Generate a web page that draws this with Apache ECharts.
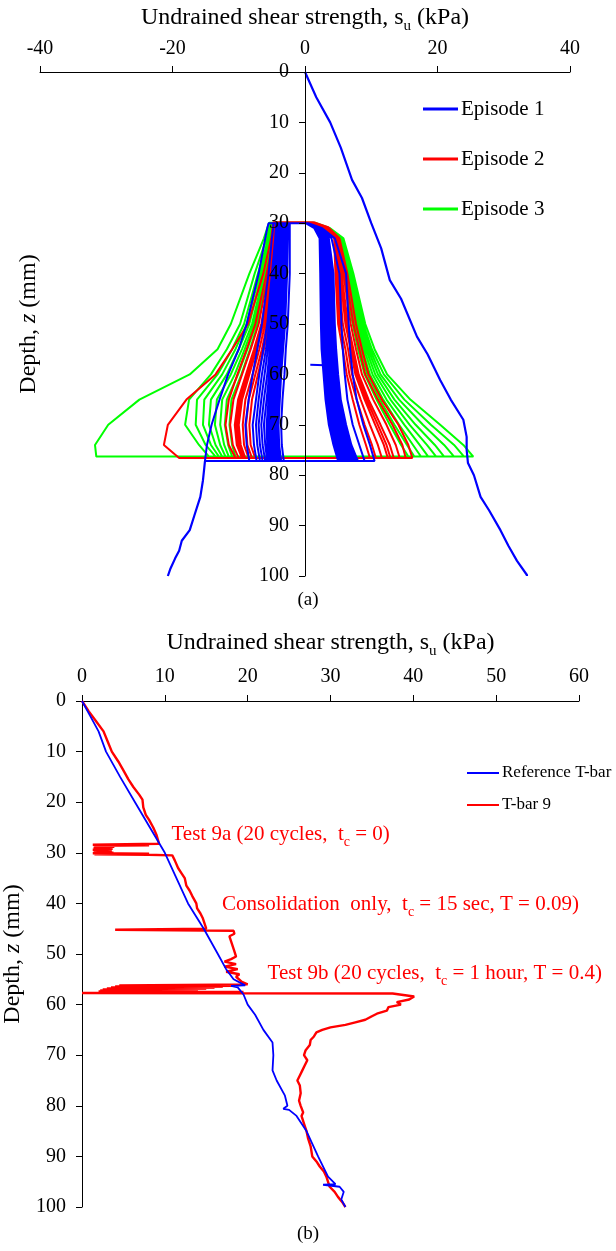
<!DOCTYPE html>
<html><head><meta charset="utf-8">
<script src="https://cdn.jsdelivr.net/npm/echarts@6.0.0/dist/echarts.min.js"></script>
<style>html,body{margin:0;padding:0;background:#fff}#c{width:616px;height:1251px}</style>
</head><body><div id="c"></div>
<script>
// ================= DATA (chart a) =================
const xTicksA = [-40, -20, 0, 20, 40];
const legendA = ['Episode 1', 'Episode 2', 'Episode 3'];
// Episode 1 monotonic penetration [su, depth]
const ep1Penetration = [[0,0],[1.7,5],[3.8,10],[5.4,15],[7.1,21.4],[8.6,25],[10.0,30],[11.5,35],[12.8,41.3],[14.5,45],[16.9,52.5],[18.5,56],[20.4,61.1],[22.0,65],[23.9,69],[24.4,72.4],[24.4,75],[24.6,77.6],[25.5,80],[26.5,84.3],[27.8,87],[29.5,90.9],[30.7,94],[32.0,97],[33.5,99.8],[33.5,100]];
// Episode 1 extraction from 100 mm up to the cycling zone
const ep1Extraction = [[-20.7,100],[-20.3,98.5],[-19.6,96.5],[-19.0,95],[-18.6,93],[-17.4,90.9],[-16.7,88],[-15.8,84.3],[-15.4,81],[-15.2,78.5],[-15.1,77.2]];
const ep1Blip = [[0.8,58.1],[3.0,58.2]];
// cyclic loops: depth stations and su on the penetration (right) and extraction (left) sides
const ep1Depth = [30, 31, 33, 40, 50, 55, 60, 65, 70, 74, 77.2];
const ep1Right = [
  [0.5, 2.6, 4.5, 6.2, 6.6, 6.8, 7.2, 7.8, 8.8, 9.8, 10.5],
  [0.5, 2.4, 4.0, 5.2, 5.5, 5.7, 6.0, 6.4, 7.2, 8.2, 9.0],
  [0.4, 2.2, 3.6, 4.3, 4.5, 4.7, 5.0, 5.4, 6.2, 7.0, 8.0],
  [0.4, 2.1, 3.5, 4.1, 4.3, 4.5, 4.8, 5.2, 5.9, 6.7, 7.7],
  [0.4, 2.0, 3.4, 4.0, 4.2, 4.3, 4.6, 5.0, 5.7, 6.5, 7.5],
  [0.3, 1.9, 3.3, 3.8, 4.0, 4.1, 4.4, 4.8, 5.5, 6.2, 7.2],
  [0.3, 1.9, 3.2, 3.7, 3.9, 4.0, 4.3, 4.6, 5.3, 6.0, 7.0],
  [0.3, 1.8, 3.1, 3.5, 3.7, 3.8, 4.1, 4.4, 5.1, 5.8, 6.7],
  [0.3, 1.8, 3.0, 3.4, 3.6, 3.7, 4.0, 4.3, 4.9, 5.6, 6.5],
  [0.2, 1.7, 2.9, 3.2, 3.4, 3.5, 3.8, 4.1, 4.7, 5.4, 6.2],
  [0.2, 1.7, 2.8, 3.1, 3.3, 3.4, 3.7, 4.0, 4.5, 5.2, 6.0],
  [0.2, 1.6, 2.7, 2.9, 3.1, 3.2, 3.5, 3.8, 4.3, 5.0, 5.8],
  [0.2, 1.6, 2.6, 2.8, 3.0, 3.1, 3.4, 3.7, 4.2, 4.9, 5.6],
  [0.2, 1.5, 2.5, 2.6, 2.8, 2.9, 3.2, 3.5, 4.0, 4.7, 5.4],
  [0.2, 1.5, 2.4, 2.5, 2.7, 2.8, 3.1, 3.4, 3.9, 4.6, 5.3],
  [0.1, 1.4, 2.2, 2.3, 2.4, 2.5, 2.8, 3.1, 3.6, 4.3, 5.0]
];
const ep1Left = [
  [-5.5, -5.7, -6.0, -7.0, -8.8, -10.0, -11.6, -12.9, -14.1, -14.8, -15.1],
  [-4.8, -4.8, -5.0, -5.5, -6.5, -7.2, -7.9, -8.5, -9.0, -8.8, -8.4],
  [-4.4, -4.4, -4.5, -5.0, -5.7, -6.3, -6.9, -7.4, -7.9, -7.7, -7.3],
  [-4.2, -4.2, -4.3, -4.7, -5.4, -5.9, -6.5, -7.0, -7.4, -7.2, -6.8],
  [-4.0, -4.0, -4.1, -4.5, -5.1, -5.6, -6.1, -6.6, -7.0, -6.8, -6.4],
  [-3.8, -3.8, -3.9, -4.3, -4.8, -5.3, -5.7, -6.2, -6.6, -6.4, -6.0],
  [-3.7, -3.7, -3.8, -4.1, -4.6, -5.0, -5.4, -5.8, -6.2, -6.0, -5.7],
  [-3.5, -3.5, -3.6, -3.9, -4.4, -4.7, -5.1, -5.5, -5.8, -5.7, -5.4],
  [-3.4, -3.4, -3.5, -3.7, -4.2, -4.5, -4.9, -5.2, -5.5, -5.4, -5.1],
  [-3.2, -3.2, -3.3, -3.5, -4.0, -4.3, -4.6, -4.9, -5.2, -5.1, -4.8],
  [-3.1, -3.1, -3.2, -3.4, -3.8, -4.1, -4.4, -4.7, -5.0, -4.9, -4.5],
  [-3.0, -3.0, -3.0, -3.2, -3.6, -3.9, -4.2, -4.4, -4.7, -4.6, -4.2],
  [-2.9, -2.9, -2.9, -3.0, -3.4, -3.7, -4.0, -4.2, -4.5, -4.4, -4.0],
  [-2.7, -2.7, -2.7, -2.8, -3.2, -3.5, -3.8, -4.0, -4.2, -4.1, -3.8],
  [-2.6, -2.6, -2.6, -2.7, -3.0, -3.3, -3.6, -3.8, -4.0, -3.9, -3.6],
  [-2.3, -2.3, -2.3, -2.3, -2.6, -2.9, -3.1, -3.4, -3.6, -3.5, -3.2]
];
const ep2Depth = [29.8, 30.8, 33, 40, 50, 55, 60, 65, 70, 74, 76.6];
const ep2Right = [
  [1.3, 3.5, 5.2, 6.4, 7.7, 8.6, 9.6, 11.6, 14.1, 15.6, 16.2],
  [1.2, 3.4, 5.0, 6.1, 7.3, 8.2, 9.1, 11.0, 13.2, 14.7, 15.2],
  [1.1, 3.3, 4.9, 5.8, 6.9, 7.7, 8.6, 10.3, 12.3, 13.7, 14.3],
  [1.0, 3.2, 4.8, 5.5, 6.5, 7.3, 8.1, 9.6, 11.4, 12.8, 13.4],
  [1.0, 3.2, 4.8, 5.4, 6.3, 7.1, 7.8, 9.3, 11.0, 12.3, 12.9],
  [0.9, 3.1, 4.7, 5.3, 6.1, 6.9, 7.6, 9.0, 10.6, 11.9, 12.5],
  [0.8, 3.0, 4.6, 5.1, 5.7, 6.5, 7.1, 8.4, 9.8, 11.0, 11.6],
  [0.7, 2.9, 4.5, 4.9, 5.3, 6.1, 6.7, 7.8, 9.0, 10.1, 10.7],
  [0.6, 2.8, 4.4, 4.6, 5.0, 5.7, 6.3, 7.2, 8.2, 9.2, 9.8]
];
const ep2Left = [
  [-4.8, -4.9, -5.1, -6.3, -8.6, -11.0, -13.5, -17.9, -20.7, -21.3, -19.0],
  [-4.5, -4.6, -4.8, -5.8, -7.5, -8.8, -10.2, -11.5, -12.0, -11.5, -10.5],
  [-4.3, -4.4, -4.6, -5.5, -7.0, -8.2, -9.5, -10.8, -11.3, -10.9, -10.0],
  [-4.1, -4.2, -4.4, -5.2, -6.6, -7.7, -8.9, -10.1, -10.6, -10.3, -9.5],
  [-4.1, -4.1, -4.3, -5.1, -6.4, -7.5, -8.6, -9.8, -10.3, -10.0, -9.2],
  [-4.0, -4.1, -4.2, -5.0, -6.3, -7.3, -8.4, -9.5, -10.0, -9.7, -9.0],
  [-3.9, -4.0, -4.1, -4.8, -6.0, -6.9, -7.9, -9.0, -9.4, -9.2, -8.5],
  [-3.8, -3.9, -4.0, -4.6, -5.7, -6.5, -7.5, -8.5, -8.9, -8.7, -8.0],
  [-3.7, -3.8, -3.9, -4.4, -5.4, -6.2, -7.1, -8.0, -8.4, -8.2, -7.5]
];
const ep3Depth = [29.9, 31, 33, 40, 50, 55, 60, 65, 70, 74, 76.3];
const ep3Right = [
  [1.5, 3.8, 5.8, 7.3, 9.1, 10.5, 12.4, 15.9, 20.4, 23.9, 25.4],
  [1.5, 3.7, 5.7, 7.1, 8.8, 10.1, 11.9, 15.0, 19.0, 22.5, 24.0],
  [1.4, 3.6, 5.6, 6.9, 8.5, 9.8, 11.4, 14.2, 17.8, 21.0, 22.5],
  [1.4, 3.5, 5.5, 6.8, 8.3, 9.5, 11.0, 13.5, 16.7, 19.6, 21.0],
  [1.3, 3.4, 5.4, 6.6, 8.0, 9.2, 10.6, 12.9, 15.8, 18.4, 19.8],
  [1.3, 3.3, 5.3, 6.4, 7.8, 8.9, 10.2, 12.3, 15.0, 17.3, 18.6],
  [1.2, 3.2, 5.2, 6.2, 7.6, 8.6, 9.8, 11.8, 14.2, 16.3, 17.5],
  [1.2, 3.1, 5.1, 6.0, 7.4, 8.3, 9.4, 11.3, 13.5, 15.4, 16.5],
  [1.1, 3.0, 5.0, 5.8, 7.2, 8.0, 9.0, 10.8, 12.8, 14.5, 15.6]
];
const ep3Left = [
  [-5.4, -5.7, -6.2, -8.4, -11.2, -13.2, -17.4, -25.0, -29.7, -31.7, -31.5],
  [-5.2, -5.4, -5.8, -7.6, -9.8, -11.8, -14.2, -17.5, -18.1, -16.0, -14.5],
  [-5.0, -5.2, -5.5, -7.1, -9.2, -11.0, -13.2, -16.3, -16.5, -15.0, -13.5],
  [-4.9, -5.0, -5.3, -6.8, -8.8, -10.5, -12.5, -15.2, -15.4, -14.2, -13.0],
  [-4.8, -4.9, -5.1, -6.5, -8.4, -10.0, -11.8, -14.2, -14.5, -13.5, -12.5],
  [-4.7, -4.8, -5.0, -6.2, -8.0, -9.5, -11.2, -13.3, -13.6, -12.8, -12.0],
  [-4.6, -4.7, -4.9, -6.0, -7.7, -9.1, -10.6, -12.5, -12.8, -12.2, -11.5],
  [-4.5, -4.6, -4.8, -5.8, -7.4, -8.7, -10.1, -11.8, -12.1, -11.6, -11.0],
  [-4.4, -4.5, -4.7, -5.6, -7.1, -8.3, -9.6, -11.1, -11.4, -11.0, -10.5]
];

// ================= DATA (chart b) =================
const xTicksB = [0, 10, 20, 30, 40, 50, 60];
const legendB = ['Reference T-bar', 'T-bar 9'];
const refTbar = [[0,0],[1.0,3],[2.0,6],[2.9,10],[4.6,15],[6.4,20],[8.2,25],[10.0,30],[11.4,35],[12.8,40],[14.7,45],[16.4,50],[17.4,53],[18.3,55],[19.7,56.2],[18.0,56.3],[18.8,56.6],[19.5,58],[20.0,60],[20.9,62],[21.9,65],[23.0,67.5],[23.1,70],[23.0,73],[23.5,75],[24.5,78],[24.8,80],[24.3,80.6],[25.0,80.8],[25.9,82],[27.1,85],[28.5,90],[29.7,94],[30.6,95.5],[29.1,95.6],[31.1,96],[31.6,97],[31.3,98.5],[31.8,100]];
const tbar9 = [[0,0],[0.8,2],[1.7,4],[2.6,6],[3.1,8],[3.6,10],[4.4,12],[5.1,14],[5.6,15.5],[6.2,17],[6.9,18.5],[7.3,19.5],[7.4,21],[7.7,22.5],[8.1,23.5],[8.6,25],[9.0,26.5],[9.3,28.2],
[1.3,28.4],[8.1,28.5],[1.5,28.6],[3.9,28.8],[1.4,29.0],[3.7,29.2],[1.3,29.4],[3.6,29.6],[1.4,29.8],[3.8,30.0],[1.3,30.1],[8.1,30.2],[1.5,30.3],[8.0,30.4],[10.9,30.5],
[11.2,31.5],[11.6,33],[12.0,34],[12.4,35],[12.6,36.5],[13.0,37.5],[13.3,38.5],[13.8,40],[13.9,41],[14.3,42],[14.6,43],[14.8,44],[15.0,45.0],
[4.0,45.2],[18.3,45.4],
[18.4,46],[17.8,46.5],[18.0,47.5],[18.2,48.5],[18.4,49.5],[18.6,50.5],[18.0,51],[17.2,51.5],[18.6,52],[17.2,52.5],[18.8,53],[17.4,53.5],[19.0,54],[18.6,54.5],[19.3,55.5],[20.0,56.0],
[4.5,56.2],[18.5,56.3],[4.0,56.4],[17.0,56.5],[3.5,56.6],[16.0,56.7],[3.0,56.8],[15.0,56.9],[2.5,57.0],[14.0,57.1],[2.2,57.2],[12.0,57.3],[2.0,57.4],[19.5,57.5],[0.0,57.7],[37.5,57.8],
[40.1,58.4],[39.5,59],[38.0,59.5],[38.5,60],[37.0,60.5],[36.8,61.2],[35.6,61.8],[35.0,62.3],[34.2,63],[33.0,63.5],[31.8,64],[30.0,64.5],[29.0,65],[28.3,65.5],[28.0,66.3],[27.6,67],[27.5,68],[27.0,69],[26.8,70],[27.2,71],[26.9,72],[26.6,73],[26.3,74],[26.0,75],[26.3,76],[26.4,77.5],[26.2,79],[26.4,80],[26.7,81.3],[26.5,82],[26.8,83.5],[27.1,85],[27.3,86.5],[27.6,88],[27.8,90],[28.3,91],[28.7,92],[29.2,93],[29.5,94],[29.9,96],[30.5,97],[30.9,98],[31.4,99],[31.8,100]];
const annotations = [
  {text: '{n|Test 9a (20 cycles,  t}{s|c}{n| = 0)}', su: 10.8, z: 26.3},
  {text: '{n|Consolidation  only,  t}{s|c}{n| = 15 sec, T = 0.09)}', su: 16.9, z: 40.2},
  {text: '{n|Test 9b (20 cycles,  t}{s|c}{n| = 1 hour, T = 0.4)}', su: 22.4, z: 53.9}
];

// ================= BUILD =================
function loops(depth, right, left) {
  const pts = [];
  for (let i = 0; i < right.length; i++) {
    for (let k = 0; k < depth.length; k++) pts.push([right[i][k], depth[k]]);
    for (let k = depth.length - 1; k >= 0; k--) pts.push([left[i][k], depth[k]]);
  }
  return pts;
}
const FONT = '"Liberation Serif", "Times New Roman", serif';
const BLUE = '#0000FF', RED = '#FF0000', GREEN = '#00FF00';
function line(name, data, color, width, xi, z) {
  return {name, type: 'line', data, xAxisIndex: xi, yAxisIndex: xi, symbol: 'none', showSymbol: false,
    z, animation: false, lineStyle: {color, width}, itemStyle: {color}, emphasis: {disabled: true}};
}
const axisCommon = {
  axisLine: {lineStyle: {color: '#000', width: 1}},
  axisTick: {lineStyle: {color: '#000'}, length: 6},
  splitLine: {show: false},
  axisLabel: {color: '#000', fontFamily: FONT, fontSize: 20}
};
const titleRich = {a: {fontFamily: FONT, fontSize: 24, color: '#000'},
                   b: {fontFamily: FONT, fontSize: 15, color: '#000', verticalAlign: 'bottom', lineHeight: 32}};
const yNameRich = {a: {fontFamily: FONT, fontSize: 24, color: '#000'},
                   i: {fontFamily: FONT, fontSize: 24, fontStyle: 'italic', color: '#000'}};
const GRID_A = {left: 40, top: 72, width: 530, height: 504};

const chart = echarts.init(document.getElementById('c'), null, {renderer: 'canvas'});
chart.setOption({
  backgroundColor: '#fff',
  animation: false,
  grid: [
    Object.assign({outerBoundsMode: 'none', containLabel: false}, GRID_A),
    {left: 82, top: 701, width: 497, height: 506, outerBoundsMode: 'none', containLabel: false}
  ],
  xAxis: [
    Object.assign({}, axisCommon, {gridIndex: 0, type: 'value', position: 'top', min: xTicksA[0], max: xTicksA[xTicksA.length-1], interval: 20,
      axisLine: {onZero: false, lineStyle: {color: '#000'}},
      axisLabel: Object.assign({}, axisCommon.axisLabel, {margin: 13}),
      name: '{a|Undrained shear strength, s}{b|u}{a| (kPa)}', nameLocation: 'middle', nameGap: 38,
      nameTextStyle: {rich: titleRich}}),
    Object.assign({}, axisCommon, {gridIndex: 1, type: 'value', position: 'top', min: xTicksB[0], max: xTicksB[xTicksB.length-1], interval: 10,
      axisLine: {onZero: false, lineStyle: {color: '#000'}},
      axisLabel: Object.assign({}, axisCommon.axisLabel, {margin: 14}),
      name: '{a|Undrained shear strength, s}{b|u}{a| (kPa)}', nameLocation: 'middle', nameGap: 42,
      nameTextStyle: {rich: titleRich}})
  ],
  yAxis: [
    // this axis is drawn through su = 0 (middle of the symmetric -40..40 range)
    Object.assign({}, axisCommon, {gridIndex: 0, type: 'value', inverse: true, min: 0, max: 100, interval: 10,
      offset: -GRID_A.width / 2, z: 10,
      axisLine: {onZero: false, lineStyle: {color: '#000'}},
      axisLabel: Object.assign({}, axisCommon.axisLabel, {margin: 16}),
      name: '{a|Depth, }{i|z}{a| (mm)}', nameLocation: 'middle', nameGap: 264, nameTextStyle: {rich: yNameRich}}),
    Object.assign({}, axisCommon, {gridIndex: 1, type: 'value', inverse: true, min: 0, max: 100, interval: 10,
      axisLine: {onZero: false, lineStyle: {color: '#000'}},
      axisLabel: Object.assign({}, axisCommon.axisLabel, {margin: 16}),
      name: '{a|Depth, }{i|z}{a| (mm)}', nameLocation: 'middle', nameGap: 48, nameTextStyle: {rich: yNameRich}})
  ],
  legend: [
    {data: legendA, orient: 'vertical', left: 418, top: 93, itemGap: 28, icon: 'rect', itemWidth: 35, itemHeight: 3,
     textStyle: {fontFamily: FONT, fontSize: 21, color: '#000', lineHeight: 22, padding: [0,0,0,-2]}, selectedMode: false},
    {data: legendB, orient: 'vertical', left: 462, top: 757, itemGap: 10, icon: 'rect', itemWidth: 32, itemHeight: 2,
     textStyle: {fontFamily: FONT, fontSize: 17, color: '#000', lineHeight: 22, padding: [0,0,0,-2]}, selectedMode: false}
  ],
  series: [
    line('Episode 3', loops(ep3Depth, ep3Right, ep3Left), GREEN, 2, 0, 2),
    line('Episode 2', loops(ep2Depth, ep2Right, ep2Left), RED, 2, 0, 3),
    line('Episode 1', ep1Penetration, BLUE, 2.2, 0, 4),
    line('Episode 1', ep1Extraction, BLUE, 2.2, 0, 4),
    line('Episode 1', loops(ep1Depth, ep1Right, ep1Left), BLUE, 2, 0, 4),
    line('Episode 1', ep1Blip, BLUE, 2, 0, 4),
    line('T-bar 9', tbar9, RED, 2.4, 1, 3),
    line('Reference T-bar', refTbar, BLUE, 1.8, 1, 4)
  ]
});
// annotations placed at data coordinates of chart (b)
const annRich = {n: {fontFamily: FONT, fontSize: 21, fill: RED, color: RED},
                 s: {fontFamily: FONT, fontSize: 14, fill: RED, color: RED, verticalAlign: 'bottom', lineHeight: 30}};
const graphics = annotations.map(a => {
  const p = chart.convertToPixel({xAxisIndex: 1, yAxisIndex: 1}, [a.su, a.z]);
  return {type: 'text', x: p[0], y: p[1], style: {text: a.text, rich: annRich, fill: RED, align: 'left', verticalAlign: 'middle'}, z: 10};
});
graphics.push({type: 'text', left: 'center', top: 591, style: {text: '(a)', fontFamily: FONT, fontSize: 19, fill: '#000'}});
graphics.push({type: 'text', left: 'center', top: 1225, style: {text: '(b)', fontFamily: FONT, fontSize: 19, fill: '#000'}});
chart.setOption({graphic: graphics});
</script>
</body></html>
